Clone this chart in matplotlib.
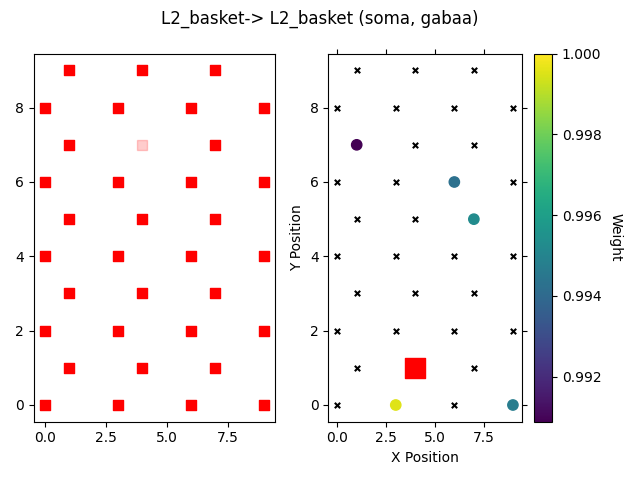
import numpy as np
import matplotlib
matplotlib.use('Agg')
import matplotlib.pyplot as plt

plt.style.use('default')

# cell positions (x, y)
cell_x = [0, 3, 6, 9, 1, 4, 7, 0, 3, 6, 9, 1, 4, 7, 0, 3, 6, 9, 1, 4, 7,
          0, 3, 6, 9, 1, 4, 7, 0, 3, 6, 9, 1, 4, 7]
cell_y = [0, 0, 0, 0, 1, 1, 1, 2, 2, 2, 2, 3, 3, 3, 4, 4, 4, 4, 5, 5, 5,
          6, 6, 6, 6, 7, 7, 7, 8, 8, 8, 8, 9, 9, 9]

# source cell (faded on left panel)
src_x = [4]
src_y = [7]

# target cell (right panel)
tgt_x = [4]
tgt_y = [1]

# connected cells and weights
conn_x = [1, 6, 7, 3, 9]
conn_y = [7, 6, 5, 0, 0]
weights = [0.99088, 0.99425, 0.99526, 0.99955, 0.99471]
w_min = 0.99088
w_max = 1.0

title = 'L2_basket-> L2_basket (soma, gabaa)'


fig, (ax1, ax2) = plt.subplots(1, 2, figsize=(6.4, 4.8))

# left panel: all cells, source faded
left_x = [x for x, y in zip(cell_x, cell_y) if (x, y) != (src_x[0], src_y[0])]
left_y = [y for x, y in zip(cell_x, cell_y) if (x, y) != (src_x[0], src_y[0])]
ax1.scatter(left_x, left_y, marker='s', c='red', s=55)
ax1.scatter(src_x, src_y, marker='s', c='red', s=55, alpha=0.2)

# right panel
skip = set(zip(conn_x, conn_y)) | set(zip(tgt_x, tgt_y))
rx = [x for x, y in zip(cell_x, cell_y) if (x, y) not in skip]
ry = [y for x, y in zip(cell_x, cell_y) if (x, y) not in skip]
ax2.scatter(rx, ry, marker='x', c='black', s=15, linewidths=1.5)
sc = ax2.scatter(conn_x, conn_y, c=weights, cmap='viridis',
                 vmin=w_min, vmax=w_max, s=55)
ax2.scatter(tgt_x, tgt_y, marker='s', c='red', s=190)
ax2.set_xlabel('X Position')
ax2.set_ylabel('Y Position')
ax2.tick_params(top=True, right=True)

for ax in (ax1, ax2):
    ax.set_xlim(-0.45, 9.45)
    ax.set_ylim(-0.45, 9.45)
    ax.set_xticks([0, 2.5, 5, 7.5])

cb = fig.colorbar(sc, ax=ax2)
cb.set_label('Weight', rotation=270, labelpad=15)

fig.suptitle(title)
fig.tight_layout()

fig.savefig('out.png', dpi=100)
